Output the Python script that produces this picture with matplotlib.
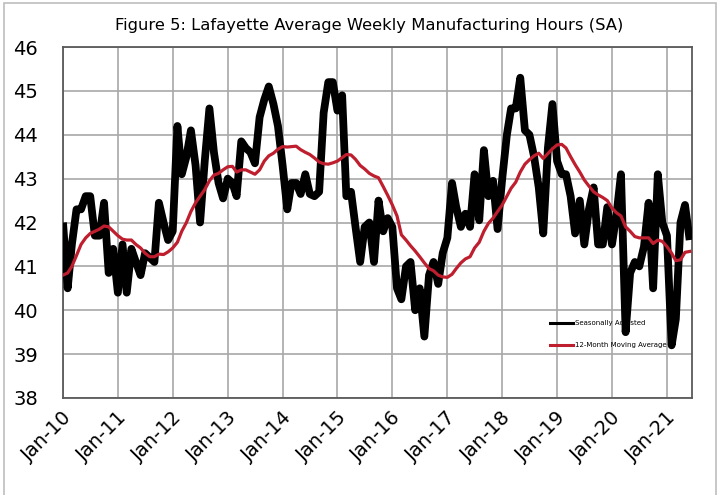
import pandas as pd
import numpy as np
import matplotlib
matplotlib.use("Agg")
import matplotlib.pyplot as plt
import matplotlib.dates as mdates
import matplotlib.transforms as mtransforms
from matplotlib.lines import Line2D
from matplotlib.patches import Rectangle

# monthly values, Jan-10 .. Jun-21
start_month = "2010-01-01"

sa_hours = [
    42.0, 40.5, 41.5, 42.3, 42.3, 42.6, 42.6, 41.7, 41.7, 42.45, 40.85, 41.4,   # 2010
    40.4, 41.5, 40.4, 41.4, 41.1, 40.8, 41.3, 41.2, 41.1, 42.45, 42.0, 41.6,    # 2011
    41.8, 44.2, 43.1, 43.5, 44.1, 43.3, 42.0, 43.4, 44.6, 43.6, 42.9, 42.55,    # 2012
    43.0, 42.9, 42.6, 43.85, 43.7, 43.6, 43.35, 44.4, 44.8, 45.1, 44.7, 44.2,   # 2013
    43.3, 42.3, 42.9, 42.9, 42.65, 43.1, 42.65, 42.6, 42.7, 44.5, 45.2, 45.2,   # 2014
    44.55, 44.9, 42.6, 42.7, 41.9, 41.1, 41.9, 42.0, 41.1, 42.5, 41.8, 42.1,    # 2015
    41.9, 40.5, 40.25, 41.0, 41.1, 40.0, 40.5, 39.4, 40.8, 41.1, 40.6, 41.3,    # 2016
    41.65, 42.9, 42.35, 41.9, 42.2, 41.9, 43.1, 42.05, 43.65, 42.6, 42.95, 41.85,  # 2017
    43.0, 44.0, 44.6, 44.6, 45.3, 44.1, 44.0, 43.5, 42.8, 41.75, 43.7, 44.7,    # 2018
    43.4, 43.1, 43.1, 42.6, 41.75, 42.5, 41.5, 42.3, 42.8, 41.5, 41.5, 42.35,   # 2019
    41.5, 42.2, 43.1, 39.5, 40.85, 41.1, 41.0, 41.45, 42.45, 40.5, 43.1, 42.0,  # 2020
    41.7, 39.2, 39.8, 42.0, 42.4, 41.6,                                         # 2021
]

ma_12 = [
    40.8, 40.85, 41.0, 41.25, 41.5, 41.65, 41.75, 41.8, 41.85, 41.92, 41.9, 41.8,
    41.7, 41.62, 41.6, 41.6, 41.5, 41.42, 41.3, 41.22, 41.22, 41.28, 41.27, 41.33,
    41.42, 41.55, 41.8, 42.0, 42.25, 42.45, 42.6, 42.75, 42.95, 43.08, 43.12, 43.2,
    43.27, 43.28, 43.15, 43.2, 43.2, 43.15, 43.1, 43.2, 43.4, 43.52, 43.58, 43.67,
    43.73, 43.72, 43.73, 43.74, 43.66, 43.6, 43.55, 43.47, 43.38, 43.34, 43.33, 43.36,
    43.4, 43.48, 43.55, 43.54, 43.44, 43.3, 43.22, 43.12, 43.06, 43.02, 42.82, 42.62,
    42.4, 42.15, 41.72, 41.6, 41.47, 41.35, 41.22, 41.08, 40.95, 40.9, 40.8, 40.76,
    40.75, 40.82, 40.95, 41.08, 41.17, 41.22, 41.42, 41.55, 41.8, 41.98, 42.1, 42.25,
    42.4, 42.6, 42.78, 42.92, 43.15, 43.33, 43.43, 43.52, 43.58, 43.46, 43.57, 43.68,
    43.77, 43.78, 43.7, 43.5, 43.32, 43.15, 42.97, 42.83, 42.7, 42.63, 42.57, 42.5,
    42.33, 42.22, 42.15, 41.9, 41.8, 41.68, 41.65, 41.65, 41.65, 41.52, 41.6, 41.57,
    41.45, 41.3, 41.13, 41.15, 41.32, 41.34,
]

series_labels = ["Seasonally Adjusted", "12-Month Moving Average"]
title = "Figure 5: Lafayette Average Weekly Manufacturing Hours (SA)"

dates = pd.date_range(start_month, periods=len(sa_hours), freq="MS")

fig = plt.figure(figsize=(7.2, 4.95), dpi=100)
ax = fig.add_axes([0.0875, 0.196, 0.8735, 0.709])

ax.plot(dates, sa_hours, color="black", lw=5.6, solid_capstyle="butt",
        solid_joinstyle="round", zorder=3)
ax.plot(dates, ma_12, color="#BE1E2D", lw=2.3, zorder=4)

ax.set_ylim(38, 46)
ax.set_yticks(range(38, 47))
ax.set_xlim(pd.Timestamp("2010-01-01"), pd.Timestamp("2021-06-16"))
ax.xaxis.set_major_locator(mdates.YearLocator())
ax.xaxis.set_major_formatter(mdates.DateFormatter("%b-%y"))

ax.grid(True, color="#A8A8A8", lw=1.2, zorder=0)
ax.set_axisbelow(True)
for s in ax.spines.values():
    s.set_color("#5A5A5A")
    s.set_linewidth(1.3)

ax.tick_params(axis="y", length=0, pad=18, labelsize=14)
ax.tick_params(axis="x", length=0, pad=6, labelsize=14)
# nudge the slanted date labels a little right and down
shift = mtransforms.ScaledTranslation(6 / 100, -8 / 100, fig.dpi_scale_trans)
for lab in ax.get_xticklabels():
    lab.set_rotation(45)
    lab.set_ha("right")
    lab.set_va("center")
    lab.set_rotation_mode("anchor")
    lab.set_transform(lab.get_transform() + shift)

handles = [Line2D([], [], color="black", lw=2.2),
           Line2D([], [], color="#BE1E2D", lw=2.2)]
leg = ax.legend(handles, series_labels, loc="upper left",
                bbox_to_anchor=(0.765, 0.24), frameon=False,
                fontsize=5, handlelength=3.2, labelspacing=2.3,
                handletextpad=0.4)
leg.set_zorder(2)

fig.text(0.513, 0.948, title, ha="center", va="center", fontsize=11.8)

fig.patches.append(Rectangle((0.005, -0.01), 0.989, 1.003, transform=fig.transFigure,
                             fill=False, edgecolor="#BDBDBD", lw=1.2))

fig.savefig("out.png", dpi=100)
